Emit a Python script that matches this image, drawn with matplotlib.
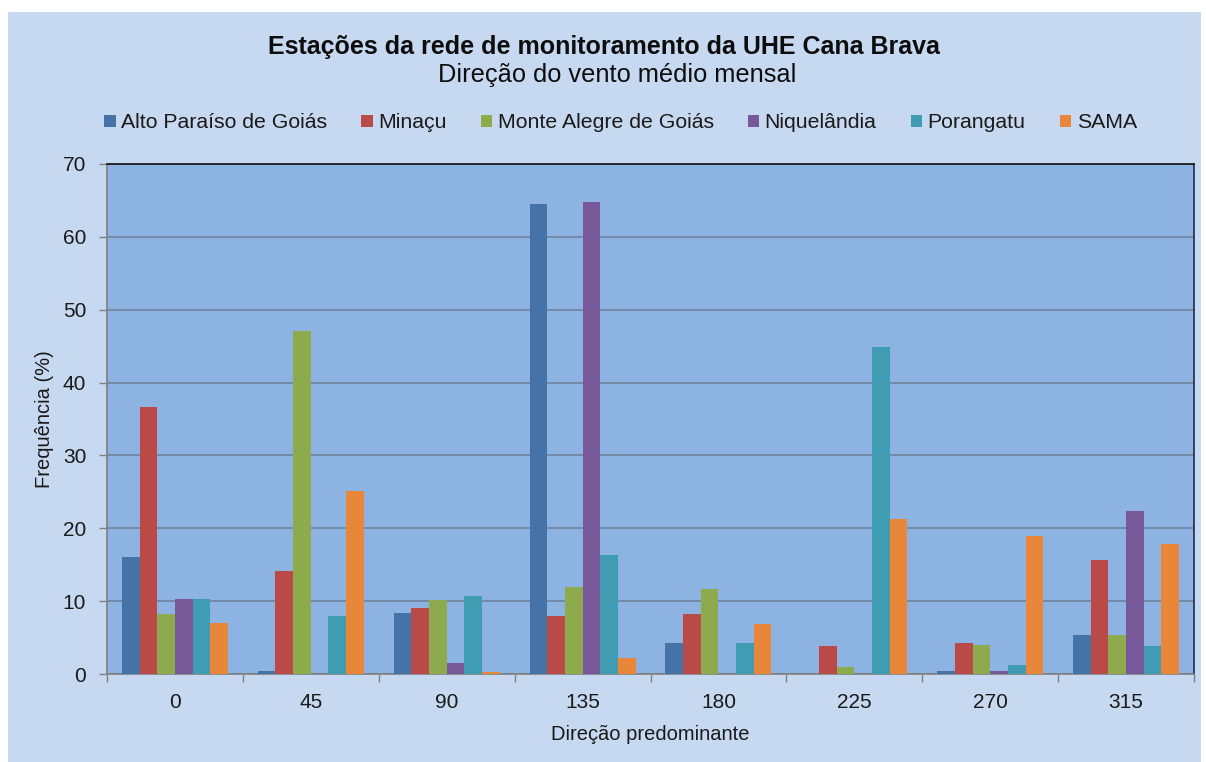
import matplotlib
matplotlib.use("Agg")
import matplotlib.pyplot as plt
from matplotlib.patches import Patch
import numpy as np

plt.rcParams['font.family'] = ['Liberation Sans', 'DejaVu Sans']

categories = ["0", "45", "90", "135", "180", "225", "270", "315"]
series_names = ["Alto Paraíso de Goiás", "Minaçu", "Monte Alegre de Goiás",
                "Niquelândia", "Porangatu", "SAMA"]
alto_paraiso = [16.0, 0.4, 8.4, 64.5, 4.3, 0.0, 0.4, 5.4]
minacu = [36.6, 14.2, 9.1, 7.9, 8.2, 3.8, 4.2, 15.6]
monte_alegre = [8.2, 47.1, 10.1, 11.9, 11.7, 1.0, 4.0, 5.4]
niquelandia = [10.3, 0.0, 1.5, 64.8, 0.0, 0.0, 0.4, 22.4]
porangatu = [10.3, 7.9, 10.7, 16.3, 4.3, 44.9, 1.3, 3.8]
sama = [7.0, 25.1, 0.3, 2.2, 6.9, 21.3, 19.0, 17.9]
series = [alto_paraiso, minacu, monte_alegre, niquelandia, porangatu, sama]
colors = ["#4572A7", "#B94A48", "#8DAA4C", "#77599A", "#3F9CB2", "#E8873A"]
yticks = [0, 10, 20, 30, 40, 50, 60, 70]

W, H = 1206, 762
fig = plt.figure(figsize=(W / 100, H / 100), dpi=100)
fig.patch.set_facecolor("white")
# outer chart area
bg = fig.add_axes([8 / W, 0, (1201 - 8) / W, (H - 12) / H], zorder=-10)
bg.set_facecolor("#C6D9F0")
bg.set_xticks([])
bg.set_yticks([])
for s in bg.spines.values():
    s.set_visible(False)

left, right, top, bottom = 107, 1194, 164, 674
ax = fig.add_axes([left / W, 1 - bottom / H, (right - left) / W, (bottom - top) / H])
ax.set_facecolor("#8DB3E2")

n = len(series)
x = np.arange(len(categories))
bw = 0.13
for i, (vals, c) in enumerate(zip(series, colors)):
    ax.bar(x + (i - (n - 1) / 2) * bw, vals, width=bw, color=c, zorder=3,
           label=series_names[i])

ax.set_xlim(-0.5, len(categories) - 0.5)
ax.set_ylim(0, 70)
ax.set_yticks(yticks)
ax.set_yticklabels([str(t) for t in yticks])
ax.yaxis.grid(True, color="#72839F", linewidth=1.2, zorder=1)
ax.set_axisbelow(True)
ax.set_xticks(x)
ax.set_xticklabels(categories)
ax.set_xticks(np.arange(-0.5, len(categories) + 0.5, 1), minor=True)
ax.tick_params(axis="x", which="major", length=0, pad=14, labelsize=15, colors="#1A1A1A")
ax.tick_params(axis="x", which="minor", length=6, color="#7F7F7F", width=1)
ax.tick_params(axis="y", length=6, width=1, labelsize=15, pad=9,
               color="#7F7F7F", labelcolor="#1A1A1A")

ax.spines["left"].set_color("#7F7F7F")
ax.spines["bottom"].set_color("#7F7F7F")
ax.spines["top"].set_color("#101010")
ax.spines["right"].set_color("#1F2A4A")
for s in ax.spines.values():
    s.set_linewidth(1.2)

ax.set_xlabel("Direção predominante", fontsize=14.5, labelpad=9, color="#1A1A1A")
ax.set_ylabel("Frequência (%)", fontsize=14.5, labelpad=6, color="#1A1A1A")

fig.text(604 / W, 1 - 47 / H,
         "Estações da rede de monitoramento da UHE Cana Brava",
         ha="center", va="center", fontsize=18, fontweight="bold", color="#0D0D0D")
fig.text(617 / W, 1 - 75 / H, "Direção do vento médio mensal",
         ha="center", va="center", fontsize=18.3, color="#0D0D0D")

handles = [Patch(facecolor=c, edgecolor="none") for c in colors]
leg = fig.legend(handles, series_names, loc="center left",
                 bbox_to_anchor=(104 / W, 1 - 123 / H), ncol=6, frameon=False,
                 fontsize=15.3, handlelength=0.55, handleheight=0.55,
                 handletextpad=0.25, columnspacing=1.6, borderaxespad=0,
                 borderpad=0)
for t in leg.get_texts():
    t.set_color("#1A1A1A")

fig.savefig("out.png", dpi=100, facecolor=fig.get_facecolor())
